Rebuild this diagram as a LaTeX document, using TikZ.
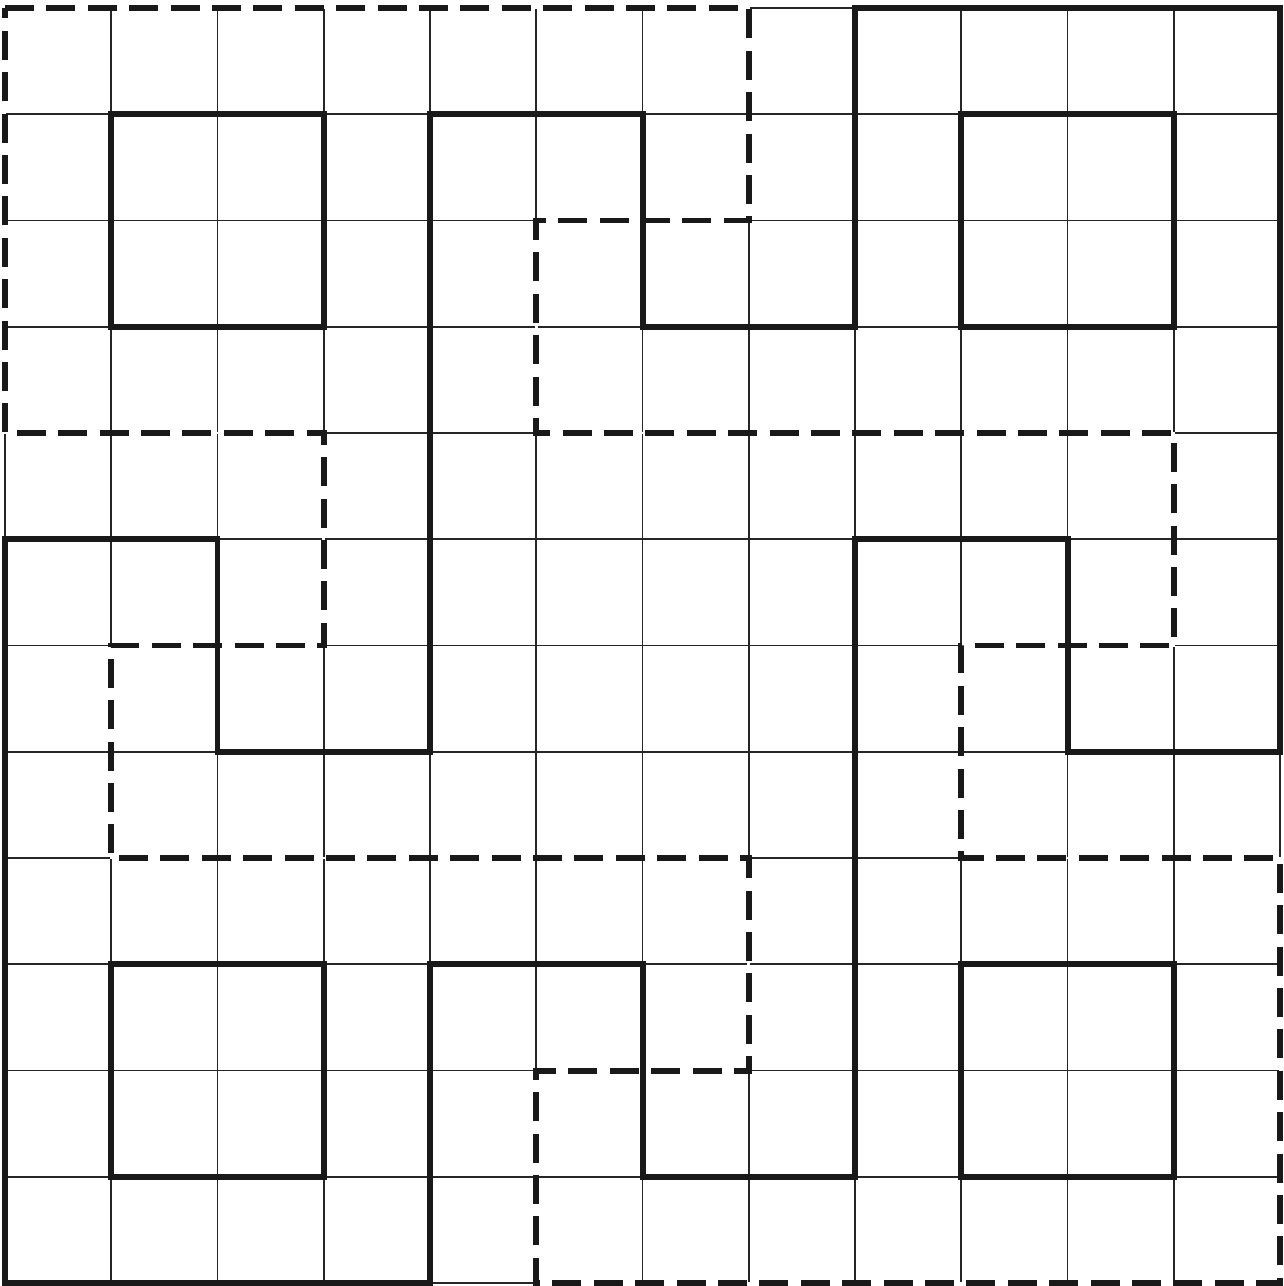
\documentclass[tikz,border=0pt]{standalone}
\begin{document}
\begin{tikzpicture}[x=5.3125cm,y=-5.3125cm,
  gridline/.style={line width=2.4pt,black!85},
  boldline/.style={line width=8.5pt,black!90,line join=miter,line cap=rect},
  eraseline/.style={line width=4pt,white},
  dashline/.style={line width=8.5pt,black!90,dash pattern=on 1.45cm off 0.62cm,line cap=butt}]
\useasboundingbox (-0.0471,-0.0753) rectangle (12.0282,12.0282);
\fill[white] (-0.0471,-0.0753) rectangle (12.0282,12.0282);
% thin grid
\foreach \i in {0,...,12}{
  \draw[gridline] (\i,0) -- (\i,12);
  \draw[gridline] (0,\i) -- (12,\i);
}
% dashed outline path
\def\dashedpath{(0,0) -- (7,0) -- (7,2) -- (5,2) -- (5,4) -- (11,4) -- (11,6) -- (9,6) -- (9,8) -- (12,8) -- (12,12) -- (5,12) -- (5,10) -- (7,10) -- (7,8) -- (1,8) -- (1,6) -- (3,6) -- (3,4) -- (0,4) -- cycle}
\draw[eraseline] \dashedpath;
\draw[dashline] \dashedpath;
% bold outline
\draw[boldline] (8,0) -- (12,0) -- (12,7) -- (10,7) -- (10,5) -- (8,5) -- (8,11) -- (6,11) -- (6,9) -- (4,9) -- (4,12) -- (0,12) -- (0,5) -- (2,5) -- (2,7) -- (4,7) -- (4,1) -- (6,1) -- (6,3) -- (8,3) -- cycle;
% bold squares
\draw[boldline] (1,1) rectangle (3,3);
\draw[boldline] (9,1) rectangle (11,3);
\draw[boldline] (1,9) rectangle (3,11);
\draw[boldline] (9,9) rectangle (11,11);
\end{tikzpicture}
\end{document}
